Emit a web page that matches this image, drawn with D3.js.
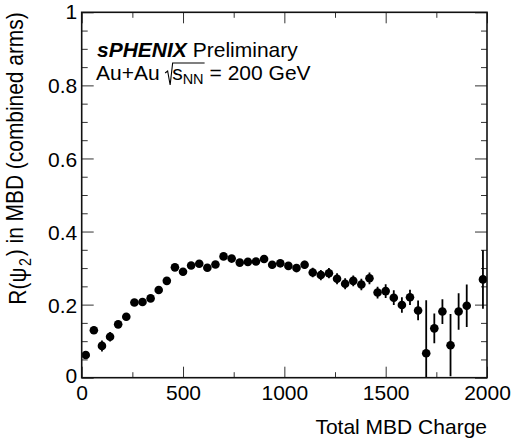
<!DOCTYPE html>
<html>
<head>
<meta charset="utf-8">
<script src="https://cdn.jsdelivr.net/npm/d3@7"></script>
<style>
  body { margin: 0; background: #fff; }
  svg { display: block; }
  text { font-family: "Liberation Sans", Arial, Helvetica, sans-serif; fill: #000; }
</style>
</head>
<body>
<svg id="chart" width="511" height="438"></svg>
<script>
// Total MBD charge bin centres
const charge = [20, 60, 100, 140, 180, 220, 260, 300, 340, 380,
                420, 460, 500, 540, 580, 620, 660, 700, 740, 780,
                820, 860, 900, 940, 980, 1020, 1060, 1100, 1140, 1180,
                1220, 1260, 1300, 1340, 1380, 1420, 1460, 1500, 1540, 1580,
                1620, 1660, 1700, 1740, 1780, 1820, 1860, 1900, 1980];
// Event-plane resolution R(psi_2), combined MBD arms
const resolution = [0.062, 0.130, 0.087, 0.112, 0.146, 0.167, 0.206, 0.207, 0.217, 0.240,
                    0.265, 0.302, 0.290, 0.307, 0.312, 0.301, 0.310, 0.332, 0.326, 0.315,
                    0.317, 0.318, 0.325, 0.309, 0.313, 0.306, 0.300, 0.309, 0.288, 0.281,
                    0.286, 0.271, 0.257, 0.265, 0.255, 0.272, 0.233, 0.237, 0.219, 0.199,
                    0.220, 0.184, 0.067, 0.135, 0.181, 0.089, 0.181, 0.197, 0.269];
// Statistical uncertainty on each point
const resolutionErr = [0.010, 0.010, 0.015, 0.013, 0.010, 0.010, 0.009, 0.009, 0.009, 0.009,
                       0.009, 0.009, 0.009, 0.009, 0.009, 0.009, 0.009, 0.009, 0.009, 0.009,
                       0.009, 0.009, 0.009, 0.010, 0.010, 0.010, 0.010, 0.011, 0.013, 0.014,
                       0.014, 0.015, 0.015, 0.015, 0.016, 0.016, 0.016, 0.019, 0.020, 0.021,
                       0.021, 0.027, 0.145, 0.041, 0.034, 0.085, 0.050, 0.058, 0.080];

const xMajorTicks = [0, 500, 1000, 1500, 2000];
const xMinorTicks = [250, 750, 1250, 1750];
const yMajorTicks = [0, 0.2, 0.4, 0.6, 0.8, 1];
const yMinorTicks = [0.05, 0.1, 0.15, 0.25, 0.3, 0.35, 0.45, 0.5, 0.55,
                     0.65, 0.7, 0.75, 0.85, 0.9, 0.95];
const yTickLabels = ["0", "0.2", "0.4", "0.6", "0.8", "1"];
const xTickLabels = ["0", "500", "1000", "1500", "2000"];

const svg = d3.select("#chart");
const frame = { left: 81.7, right: 487, top: 12.3, bottom: 377.7 };

const x = d3.scaleLinear().domain([0, 2000]).range([frame.left, frame.right]);
const y = d3.scaleLinear().domain([0, 1]).range([frame.bottom, frame.top]);

const tickColor = "#333";
const labelSize = 21;

function styleAxis(g) {
  g.select(".domain").remove();
  g.selectAll(".tick line").attr("stroke", tickColor).attr("stroke-width", 1);
  g.selectAll("text").attr("font-size", labelSize)
    .attr("font-family", "'Liberation Sans', Arial, Helvetica, sans-serif")
    .attr("fill", "#000");
  g.attr("font-family", null).attr("font-size", null);
}

// bottom axis with labels, ticks pointing into the frame
svg.append("g")
  .attr("transform", `translate(0,${frame.bottom})`)
  .call(d3.axisBottom(x).tickValues(xMajorTicks)
        .tickFormat((d, i) => xTickLabels[i])
        .tickSizeInner(-11).tickSizeOuter(0).tickPadding(7.4))
  .call(styleAxis);
svg.append("g")
  .attr("transform", `translate(0,${frame.bottom})`)
  .call(d3.axisBottom(x).tickValues(xMinorTicks).tickFormat("")
        .tickSizeInner(-5.5).tickSizeOuter(0))
  .call(styleAxis);
// top axis ticks
svg.append("g")
  .attr("transform", `translate(0,${frame.top})`)
  .call(d3.axisTop(x).tickValues(xMajorTicks).tickFormat("")
        .tickSizeInner(-11).tickSizeOuter(0))
  .call(styleAxis);
svg.append("g")
  .attr("transform", `translate(0,${frame.top})`)
  .call(d3.axisTop(x).tickValues(xMinorTicks).tickFormat("")
        .tickSizeInner(-5.5).tickSizeOuter(0))
  .call(styleAxis);

// left axis with labels
const yAxisG = svg.append("g")
  .attr("transform", `translate(${frame.left},0)`)
  .call(d3.axisLeft(y).tickValues(yMajorTicks)
        .tickFormat((d, i) => yTickLabels[i])
        .tickSizeInner(-12).tickSizeOuter(0).tickPadding(4.5))
  .call(styleAxis);
yAxisG.selectAll("text").attr("dy", "0.36em");
yAxisG.selectAll(".tick").filter(d => d === 0).select("text").attr("dy", "0.24em");
yAxisG.selectAll(".tick").filter(d => d === 1).select("text").attr("dy", "0.31em");

svg.append("g")
  .attr("transform", `translate(${frame.left},0)`)
  .call(d3.axisLeft(y).tickValues(yMinorTicks).tickFormat("")
        .tickSizeInner(-6).tickSizeOuter(0))
  .call(styleAxis);
// right axis ticks
svg.append("g")
  .attr("transform", `translate(${frame.right},0)`)
  .call(d3.axisRight(y).tickValues(yMajorTicks).tickFormat("")
        .tickSizeInner(-12).tickSizeOuter(0))
  .call(styleAxis);
svg.append("g")
  .attr("transform", `translate(${frame.right},0)`)
  .call(d3.axisRight(y).tickValues(yMinorTicks).tickFormat("")
        .tickSizeInner(-6).tickSizeOuter(0))
  .call(styleAxis);

// data points with vertical error bars, clipped to the frame
svg.append("clipPath").attr("id", "plotClip")
  .append("rect")
  .attr("x", frame.left).attr("y", frame.top)
  .attr("width", frame.right - frame.left).attr("height", frame.bottom - frame.top);

const points = charge.map((c, i) => ({ c, v: resolution[i], e: resolutionErr[i] }));
const plot = svg.append("g").attr("clip-path", "url(#plotClip)");

plot.selectAll("line.err").data(points).join("line")
  .attr("class", "err")
  .attr("x1", d => x(d.c)).attr("x2", d => x(d.c))
  .attr("y1", d => y(d.v - d.e)).attr("y2", d => y(d.v + d.e))
  .attr("stroke", "#000").attr("stroke-width", 1.8);

plot.selectAll("circle.pt").data(points).join("circle")
  .attr("class", "pt")
  .attr("cx", d => x(d.c)).attr("cy", d => y(d.v))
  .attr("r", 4.3).attr("fill", "#000");

// frame
svg.append("rect")
  .attr("x", frame.left).attr("y", frame.top)
  .attr("width", frame.right - frame.left).attr("height", frame.bottom - frame.top)
  .attr("fill", "none").attr("stroke", "#111").attr("stroke-width", 1.6);

// axis titles
svg.append("text")
  .attr("x", frame.right).attr("y", 434)
  .attr("text-anchor", "end").attr("font-size", 21)
  .text("Total MBD Charge");

// y title: tall glyphs, slightly condensed along the reading direction
const yTitle = svg.append("text")
  .attr("transform", `translate(25.5,${frame.top}) rotate(-90) scale(0.89,1)`)
  .attr("text-anchor", "end").attr("font-size", 23.5);
yTitle.append("tspan").text("R(ψ");
yTitle.append("tspan").attr("font-size", 16).attr("dx", 2).attr("dy", "0.35em").text("2");
yTitle.append("tspan").attr("dx", 2).attr("dy", "-0.35em").text(") in MBD (combined arms)");

// collaboration label
const line1 = svg.append("text").attr("x", 97).attr("y", 57).attr("font-size", 21);
line1.append("tspan").attr("font-weight", "bold").attr("font-style", "italic").text("sPHENIX");
line1.append("tspan").text(" Preliminary");

const base2 = 80, fs2 = 21;
const t1 = svg.append("text").attr("x", 96).attr("y", base2).attr("font-size", fs2).text("Au+Au");
const rx = 96 + t1.node().getComputedTextLength() + 5.5;
const sText = svg.append("text").attr("x", rx + 7).attr("y", base2).attr("font-size", fs2);
sText.append("tspan").text("s");
sText.append("tspan").attr("font-size", 14.5).attr("dy", 4).text("NN");
const barEnd = rx + 7 + sText.node().getComputedTextLength() + 1;
svg.append("path")
  .attr("d", `M${rx},${base2 - 7} L${rx + 2.5},${base2 - 9} L${rx + 5},${base2 + 5} L${rx + 7.5},${base2 - 17} L${barEnd},${base2 - 17}`)
  .attr("fill", "none").attr("stroke", "#000").attr("stroke-width", 1.1);
svg.append("text").attr("x", barEnd + 5).attr("y", base2).attr("font-size", fs2).text("= 200 GeV");
</script>
</body>
</html>
